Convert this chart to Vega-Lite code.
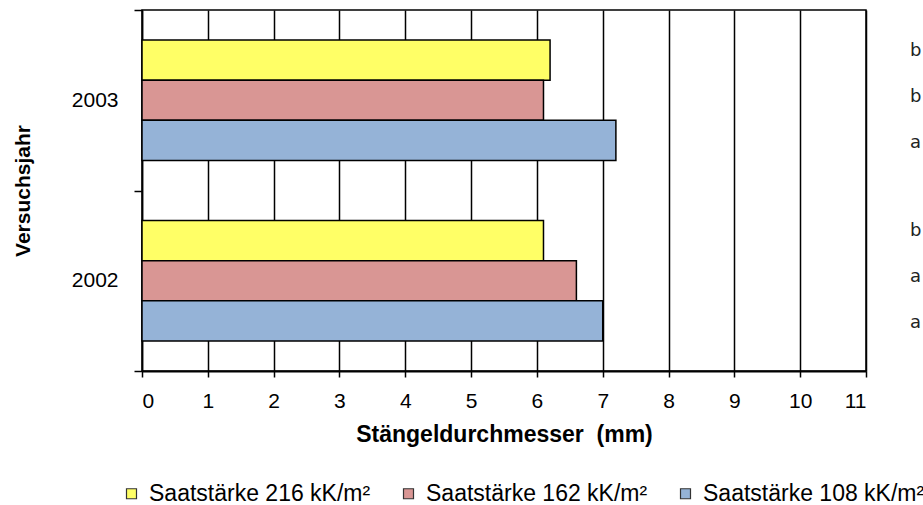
{
  "$schema": "https://vega.github.io/schema/vega-lite/v6.json",
  "width": 724,
  "height": 361,
  "autosize": "none",
  "padding": {"left": 142, "top": 10, "right": 57, "bottom": 134},
  "background": "white",
  "config": {
    "font": "Liberation Sans",
    "view": {"stroke": "black", "strokeWidth": 1.5},
    "axis": {"domainColor": "black", "tickColor": "black", "labelColor": "black", "titleColor": "black"}
  },
  "datasets": {
    "bars": [
      {"jahr": "2003", "saat": "Saatstärke 216 kK/m²", "mm": 6.2},
      {"jahr": "2003", "saat": "Saatstärke 162 kK/m²", "mm": 6.1},
      {"jahr": "2003", "saat": "Saatstärke 108 kK/m²", "mm": 7.2},
      {"jahr": "2002", "saat": "Saatstärke 216 kK/m²", "mm": 6.1},
      {"jahr": "2002", "saat": "Saatstärke 162 kK/m²", "mm": 6.6},
      {"jahr": "2002", "saat": "Saatstärke 108 kK/m²", "mm": 7.0}
    ],
    "letters": [
      {"jahr": "2003", "slot": 1, "buchstabe": "b", "pos": 11.67},
      {"jahr": "2003", "slot": 2, "buchstabe": "b", "pos": 11.67},
      {"jahr": "2003", "slot": 3, "buchstabe": "a", "pos": 11.67},
      {"jahr": "2002", "slot": 1, "buchstabe": "b", "pos": 11.67},
      {"jahr": "2002", "slot": 2, "buchstabe": "a", "pos": 11.67},
      {"jahr": "2002", "slot": 3, "buchstabe": "a", "pos": 11.67}
    ]
  },
  "layer": [
    {
      "data": {"name": "bars"},
      "mark": {"type": "bar", "stroke": "black", "strokeWidth": 1.5},
      "encoding": {
        "y": {
          "field": "jahr", "type": "nominal", "sort": ["2003", "2002"],
          "scale": {"paddingInner": 0, "paddingOuter": 0},
          "axis": {
            "title": "Versuchsjahr", "titleFontSize": 21, "titleFontWeight": "bold", "titlePadding": 38,
            "labelFontSize": 21, "labelPadding": 16, "tickSize": 8, "tickBand": "extent",
            "tickWidth": 1.5, "domainWidth": 1.5, "grid": false
          }
        },
        "yOffset": {
          "field": "saat", "type": "nominal",
          "sort": ["Saatstärke 216 kK/m²", "Saatstärke 162 kK/m²", "Saatstärke 108 kK/m²"],
          "scale": {"paddingInner": 0, "paddingOuter": 0.75}
        },
        "x": {
          "field": "mm", "type": "quantitative",
          "scale": {"domain": [0, 11], "nice": false},
          "axis": {
            "title": "Stängeldurchmesser\u00a0 (mm)", "titleFontSize": 23, "titleFontWeight": "bold", "titlePadding": 12,
            "values": [0,1,2,3,4,5,6,7,8,9,10,11], "format": "d", "labelFontSize": 21, "labelPadding": 13, "tickSize": 6,
            "tickWidth": 1.5, "domainWidth": 2, "grid": true, "gridColor": "black", "gridWidth": 1.5, "gridOpacity": 1
          }
        },
        "color": {
          "field": "saat", "type": "nominal",
          "scale": {
            "domain": ["Saatstärke 216 kK/m²", "Saatstärke 162 kK/m²", "Saatstärke 108 kK/m²"],
            "range": ["#FFFF66", "#D99694", "#95B3D7"]
          },
          "legend": {
            "title": null, "orient": "none", "direction": "horizontal", "legendX": -22, "legendY": 472,
            "symbolType": "square", "symbolSize": 100, "symbolStrokeColor": "#333", "symbolStrokeWidth": 1.2,
            "labelFontSize": 23, "labelColor": "black", "labelOffset": 6, "labelLimit": 400, "columnPadding": 26
          }
        }
      }
    },
    {
      "data": {"name": "letters"},
      "mark": {"type": "text", "align": "left", "baseline": "middle", "font": "DejaVu Sans", "fontSize": 18, "color": "#222"},
      "encoding": {
        "y": {"field": "jahr", "type": "nominal", "sort": ["2003", "2002"]},
        "yOffset": {"field": "slot", "type": "ordinal", "scale": {"type": "point", "padding": 0.957, "align": 0.46}},
        "x": {"field": "pos", "type": "quantitative"},
        "text": {"field": "buchstabe"}
      }
    }
  ],
  "resolve": {"scale": {"yOffset": "independent"}}
}
